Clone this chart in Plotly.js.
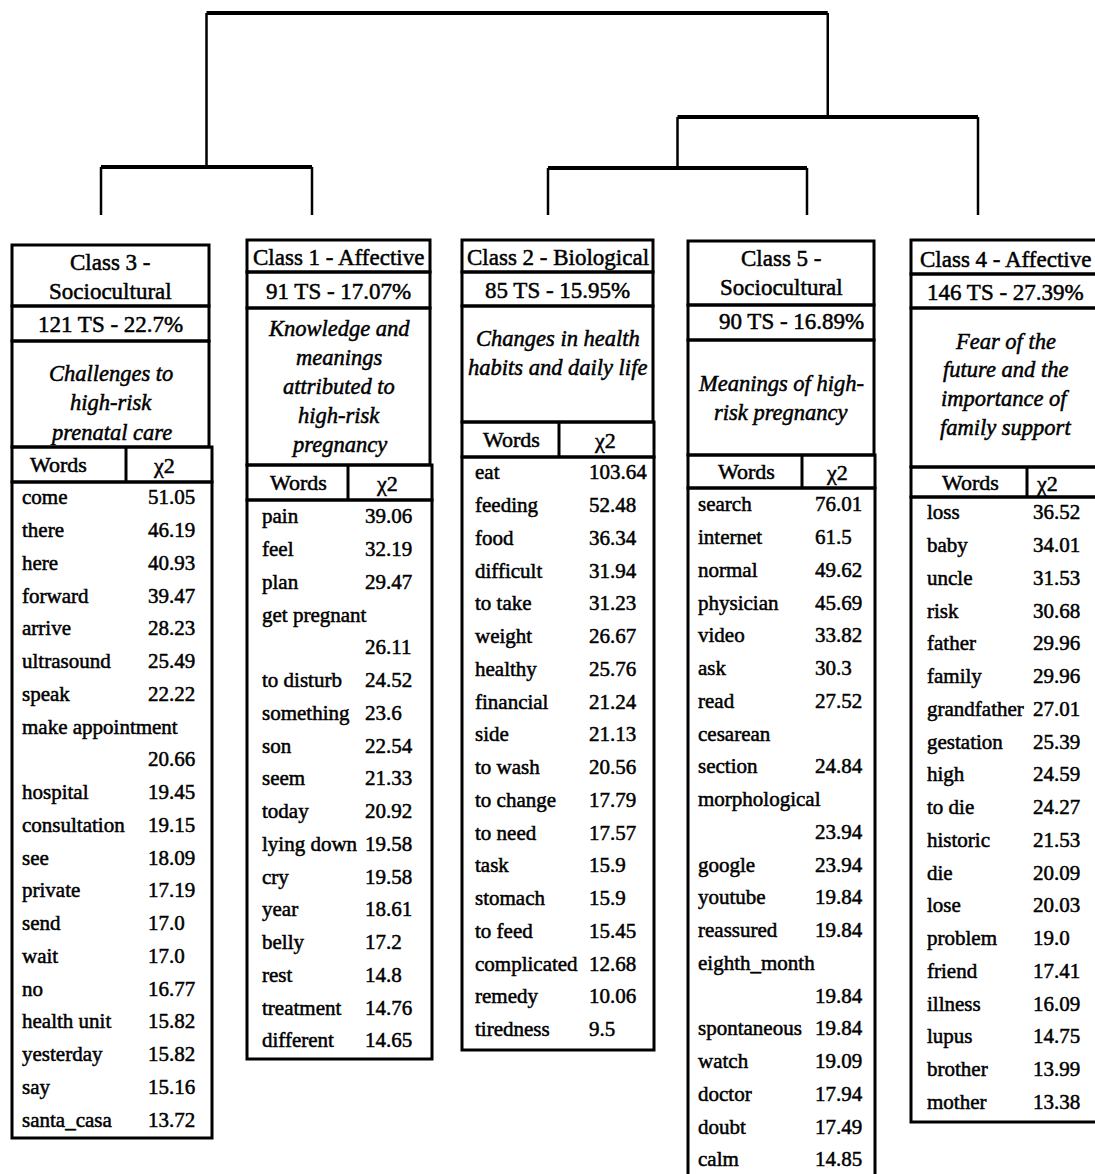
<!DOCTYPE html>
<html><head><meta charset="utf-8">
<script src="https://cdn.plot.ly/plotly-3.0.1.min.js"></script>
<style>html,body{margin:0;padding:0;background:#fff}#chart{width:1095px;height:1174px}
#chart svg text{stroke:#000;stroke-width:0.5px;paint-order:stroke fill}</style>
</head><body><div id="chart"></div>
<script>
// ================= DATA =================
const classIds = ["Class 3", "Class 1", "Class 2", "Class 5", "Class 4"];
const classTitleLines = [["Class 3 -", "Sociocultural"], ["Class 1 - Affective"], ["Class 2 - Biological"], ["Class 5 -", "Sociocultural"], ["Class 4 - Affective"]];
const tsCounts = [121, 91, 85, 90, 146];
const tsPercents = ["22.7", "17.07", "15.95", "16.89", "27.39"];
const themeLines = [
  ["Challenges to", "high-risk", "prenatal care"],
  ["Knowledge and", "meanings", "attributed to", "high-risk", "pregnancy"],
  ["Changes in health", "habits and daily life"],
  ["Meanings of high-", "risk pregnancy"],
  ["Fear of the", "future and the", "importance of", "family support"]
];
const colHeaders = ["Words", "χ2"];

// "|" marks where the original table wraps a word onto a second line
const words3 = ["come","there","here","forward","arrive","ultrasound","speak","make appointment|","hospital","consultation","see","private","send","wait","no","health unit","yesterday","say","santa_casa"];
const chi3   = [51.05,46.19,40.93,39.47,28.23,25.49,22.22,20.66,19.45,19.15,18.09,17.19,17.0,17.0,16.77,15.82,15.82,15.16,13.72];
const words1 = ["pain","feel","plan","get pregnant|","to disturb","something","son","seem","today","lying down","cry","year","belly","rest","treatment","different"];
const chi1   = [39.06,32.19,29.47,26.11,24.52,23.6,22.54,21.33,20.92,19.58,19.58,18.61,17.2,14.8,14.76,14.65];
const words2 = ["eat","feeding","food","difficult","to take","weight","healthy","financial","side","to wash","to change","to need","task","stomach","to feed","complicated","remedy","tiredness"];
const chi2   = [103.64,52.48,36.34,31.94,31.23,26.67,25.76,21.24,21.13,20.56,17.79,17.57,15.9,15.9,15.45,12.68,10.06,9.5];
const words5 = ["search","internet","normal","physician","video","ask","read","cesarean|section","morphological|","google","youtube","reassured","eighth_month|","spontaneous","watch","doctor","doubt","calm"];
const chi5   = [76.01,61.5,49.62,45.69,33.82,30.3,27.52,24.84,23.94,23.94,19.84,19.84,19.84,19.84,19.09,17.94,17.49,14.85];
const words4 = ["loss","baby","uncle","risk","father","family","grandfather","gestation","high","to die","historic","die","lose","problem","friend","illness","lupus","brother","mother"];
const chi4   = [36.52,34.01,31.53,30.68,29.96,29.96,27.01,25.39,24.59,24.27,21.53,20.09,20.03,19.0,17.41,16.09,14.75,13.99,13.38];

// Dendrogram linkage over leaves [C3, C1, C2, C5, C4] (ids 0..4; new clusters 5,6,7,8)
const mergeA = [0, 2, 6, 5];
const mergeB = [1, 3, 4, 7];
const mergeH = [0.238, 0.233, 0.485, 1.0];

// ================= LAYOUT (pixel geometry) =================
const W = 1095, H = 1174;
const FONT = "Liberation Serif, Times New Roman, serif";
const rowStep = 32.75;
const leafX = [101, 312, 548, 807, 978];
const dendroBottomPx = 215, dendroUnitPx = 202;
const boxes = [
  {L:12, R:209, R2:212, top:245, y1:306, y2:341, y3:447, y4:482, bottom:1138, div:126, wordX:22, valX:148, row0:499, titleY:262, tsY:324, tsShift:0, themeY:373, themeStep:29.5, hW:58, hC:164},
  {L:247, R:430, R2:432, top:240, y1:272, y2:308, y3:465, y4:500, bottom:1059, div:348, wordX:262, valX:365, row0:518, titleY:257, tsY:291, tsShift:0, themeY:328, themeStep:29, hW:298, hC:387},
  {L:462, R:653, R2:654, top:240, y1:272, y2:306, y3:422, y4:457, bottom:1050, div:559, wordX:475, valX:589, row0:474, titleY:257, tsY:290, tsShift:0, themeY:338, themeStep:29.5, hW:511, hC:605},
  {L:688, R:874, R2:875, top:241, y1:305, y2:340, y3:455, y4:488, bottom:1195, div:802, wordX:698, valX:815, row0:506, titleY:258, tsY:321, tsShift:10, themeY:383, themeStep:29.5, hW:746, hC:837},
  {L:911, R:1110, R2:1110, top:240, y1:274, y2:308, y3:467, y4:497, bottom:1122, div:1027, wordX:927, valX:1033, row0:514, titleY:259, tsY:292, tsShift:0, themeY:341, themeStep:28.7, hW:970, hC:1047}
];
const allWords = [words3, words1, words2, words5, words4];
const allChi = [chi3, chi1, chi2, chi5, chi4];

function fmt(v){ return Number.isInteger(v) ? v.toFixed(1) : String(v); }
function expandRows(words, vals){
  const w = [], v = [];
  words.forEach((wd, i) => {
    const parts = wd.split("|");
    if (parts.length === 1) { w.push(wd); v.push(fmt(vals[i])); }
    else { w.push(parts[0]); v.push(""); w.push(parts[1]); v.push(fmt(vals[i])); }
  });
  return {w, v};
}

const traces = [];
const shapes = [];
const annotations = [];
const lineStyle = {color:"#000", width:3};

// ---- dendrogram ----
const nodeX = leafX.slice(), nodeH = [0,0,0,0,0];
const vx = [], vy = [], hx = [], hy = [];
mergeA.forEach((a, i) => {
  const b = mergeB[i], h = mergeH[i];
  vx.push(nodeX[a], nodeX[a], null, nodeX[b], nodeX[b], null);
  vy.push(nodeH[a], h, null, nodeH[b], h, null);
  hx.push(nodeX[a], nodeX[b], null);
  hy.push(h, h, null);
  nodeX.push((nodeX[a] + nodeX[b]) / 2);
  nodeH.push(h);
});
traces.push({x:vx, y:vy, xaxis:"x", yaxis:"y2", mode:"lines", line:{color:"#000", width:2.5}, hoverinfo:"skip"});
traces.push({x:hx, y:hy, xaxis:"x", yaxis:"y2", mode:"lines", line:{color:"#000", width:4}, hoverinfo:"skip"});

// ---- tables ----
boxes.forEach((b, t) => {
  const rect = (x0, x1, y0, y1) => shapes.push({type:"rect", xref:"x", yref:"y", x0, x1, y0, y1, line:lineStyle, fillcolor:"rgba(0,0,0,0)"});
  rect(b.L, b.R, b.top, b.y1);
  rect(b.L, b.R, b.y1, b.y2);
  rect(b.L, b.R, b.y2, b.y3);
  rect(b.L, b.R2, b.y3, b.y4);
  rect(b.L, b.R2, b.y4, b.bottom);
  shapes.push({type:"line", xref:"x", yref:"y", x0:b.div, x1:b.div, y0:b.y3, y1:b.y4, line:lineStyle});

  const cx = (b.L + Math.min(b.R, 1099)) / 2;
  const tl = classTitleLines[t];
  tl.forEach((s, k) => annotations.push({x:cx, y:b.titleY + k*29.5, xref:"x", yref:"y", text:s, showarrow:false, xanchor:"center", yanchor:"middle", font:{family:FONT, size:23, color:"#000"}}));
  annotations.push({x:cx + b.tsShift, y:b.tsY, xref:"x", yref:"y", text:tsCounts[t] + " TS - " + tsPercents[t] + "%", showarrow:false, xanchor:"center", yanchor:"middle", font:{family:FONT, size:23, color:"#000"}});
  themeLines[t].forEach((s, k) => annotations.push({x:cx, y:b.themeY + k*b.themeStep, xref:"x", yref:"y", text:"<i>" + s + "</i>", showarrow:false, xanchor:"center", yanchor:"middle", font:{family:FONT, size:22.5, color:"#000"}}));
  const hy = (b.y3 + b.y4) / 2;
  annotations.push({x:b.hW, y:hy, xref:"x", yref:"y", text:colHeaders[0], showarrow:false, xanchor:"center", yanchor:"middle", font:{family:FONT, size:22, color:"#000"}});
  annotations.push({x:b.hC, y:hy + 1, xref:"x", yref:"y", text:colHeaders[1], showarrow:false, xanchor:"center", yanchor:"middle", font:{family:FONT, size:22, color:"#000"}});

  const r = expandRows(allWords[t], allChi[t]);
  const ys = r.w.map((_, k) => b.row0 + k*rowStep);
  traces.push({x:r.w.map(() => b.wordX), y:ys, text:r.w, mode:"text", textposition:"middle right", xaxis:"x", yaxis:"y", textfont:{family:FONT, size:21, color:"#000"}, hoverinfo:"skip", cliponaxis:true});
  traces.push({x:r.v.map(() => b.valX), y:ys, text:r.v, mode:"text", textposition:"middle right", xaxis:"x", yaxis:"y", textfont:{family:FONT, size:21, color:"#000"}, hoverinfo:"skip", cliponaxis:true});
});

const layout = {
  width:W, height:H, margin:{l:0, r:0, t:0, b:0},
  paper_bgcolor:"#fff", plot_bgcolor:"#fff", showlegend:false, hovermode:false,
  xaxis:{range:[0, W], visible:false, fixedrange:true},
  yaxis:{range:[H, 0], visible:false, fixedrange:true, domain:[0,1]},
  yaxis2:{range:[0, dendroBottomPx/dendroUnitPx], visible:false, fixedrange:true, domain:[1 - dendroBottomPx/H, 1], anchor:"x"},
  shapes, annotations
};
Plotly.newPlot("chart", traces, layout, {staticPlot:true, displayModeBar:false});
</script></body></html>
